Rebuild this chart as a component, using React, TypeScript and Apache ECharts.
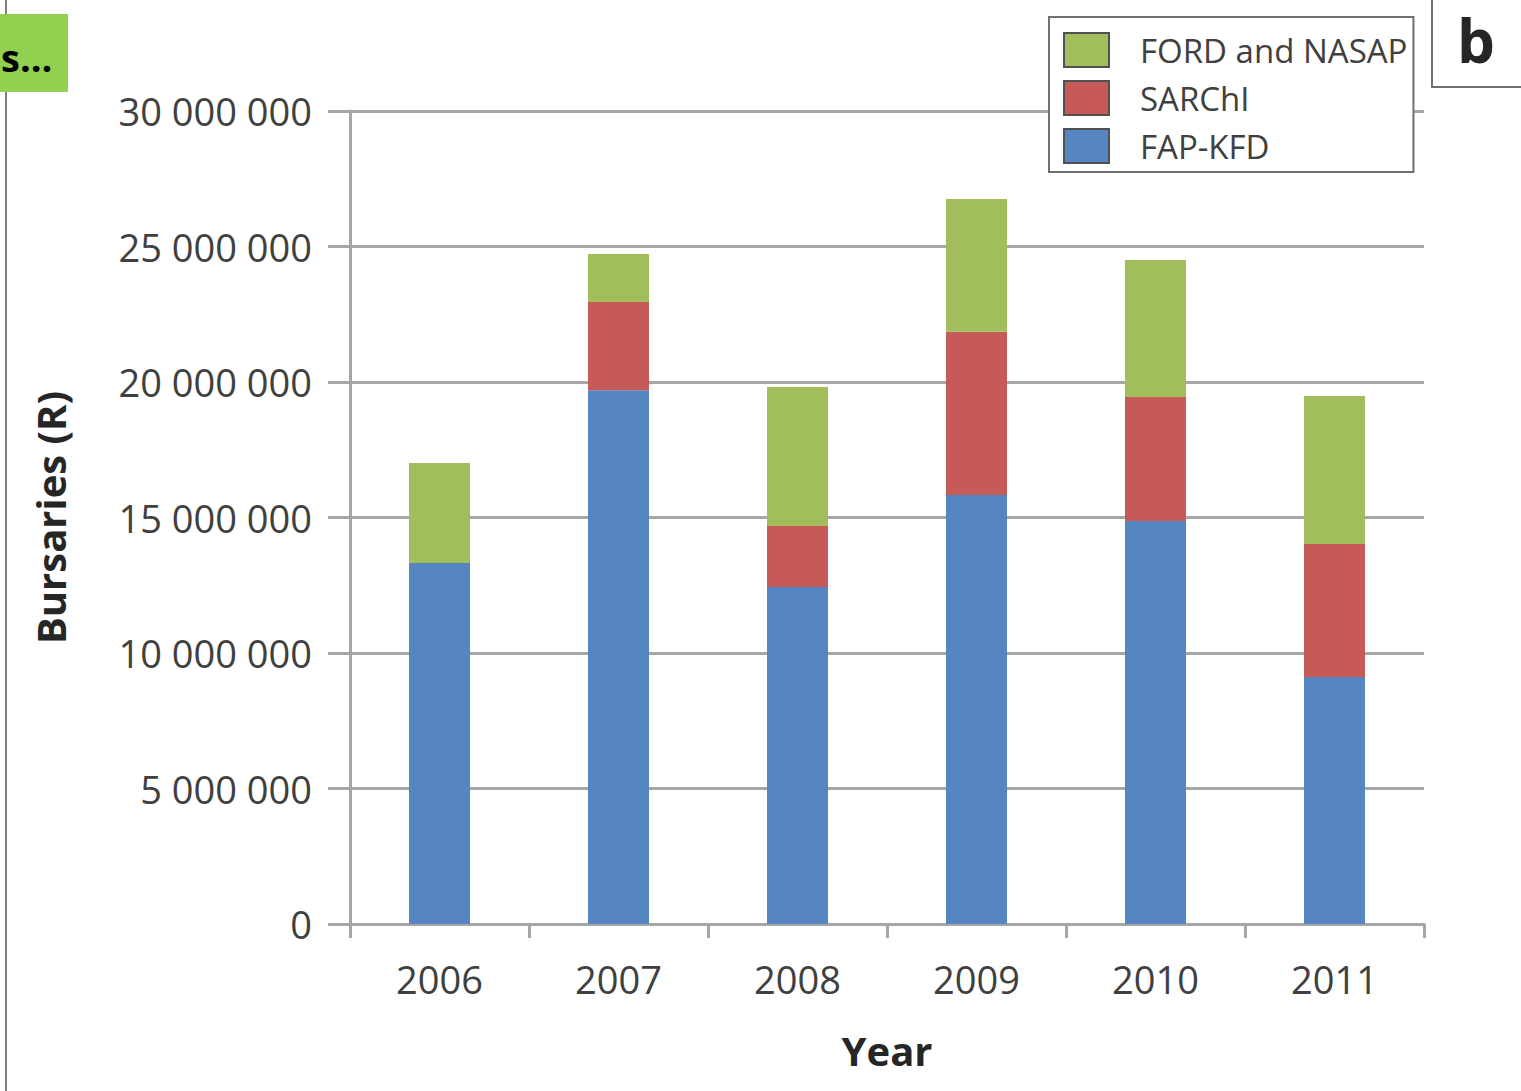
import React, { useEffect, useRef } from "react";
import * as echarts from "echarts";

const years = ["2006", "2007", "2008", "2009", "2010", "2011"];
const fapKfd = [13320000, 19700000, 12440000, 15830000, 14870000, 9110000];
const sarchi = [0, 3250000, 2250000, 6020000, 4580000, 4910000];
const fordNasap = [3690000, 1770000, 5130000, 4900000, 5050000, 5460000];
const seriesNames = ["FAP-KFD", "SARChI", "FORD and NASAP"];
const legendOrder = ["FORD and NASAP", "SARChI", "FAP-KFD"];
const colors = ["#5686C2", "#C65A56", "#A1BD5C"];

const FONT = "'Open Sans', 'DejaVu Sans', sans-serif";

function fmt(v: number): string {
  return String(v).replace(/\B(?=(\d{3})+(?!\d))/g, " ");
}

export default function App() {
  const ref = useRef<HTMLDivElement>(null);
  useEffect(() => {
    if (!ref.current) return;
    const chart = echarts.init(ref.current, undefined, { renderer: "svg" });
    const data = [fapKfd, sarchi, fordNasap];
    chart.setOption({
      animation: false,
      backgroundColor: "#ffffff",
      grid: { left: 350, right: 97, top: 111, bottom: 167, containLabel: false },
      legend: {
        orient: "vertical",
        left: 1049,
        top: 17,
        data: legendOrder,
        padding: [15, 6, 8, 14],
        itemWidth: 45,
        itemHeight: 34,
        itemGap: 12,
        backgroundColor: "#ffffff",
        borderColor: "#6f6f6f",
        borderWidth: 2,
        icon: "rect",
        itemStyle: { borderColor: "#505050", borderWidth: 2 },
        textStyle: { fontFamily: FONT, fontSize: 33, color: "#404040", padding: [0, 0, 0, 26] },
      },
      xAxis: {
        type: "category",
        data: years,
        name: "Year",
        nameLocation: "middle",
        nameGap: 106,
        nameTextStyle: { fontFamily: FONT, fontSize: 40, fontWeight: "bold", color: "#262626" },
        axisLine: { show: true, lineStyle: { color: "#A6A6A6", width: 3 } },
        axisTick: { show: true, length: 14, lineStyle: { color: "#A6A6A6", width: 3 } },
        axisLabel: { fontFamily: FONT, fontSize: 38, color: "#404040", margin: 36 },
      },
      yAxis: {
        type: "value",
        min: 0,
        max: 30000000,
        interval: 5000000,
        name: "Bursaries (R)",
        nameLocation: "middle",
        nameRotate: 90,
        nameGap: 280,
        nameTextStyle: { fontFamily: FONT, fontSize: 40, fontWeight: "bold", color: "#262626" },
        axisLine: { show: true, lineStyle: { color: "#A6A6A6", width: 3 } },
        axisTick: { show: true, length: 22, lineStyle: { color: "#A6A6A6", width: 3 } },
        splitLine: { show: true, lineStyle: { color: "#A6A6A6", width: 3 } },
        axisLabel: {
          fontFamily: FONT,
          fontSize: 38,
          color: "#404040",
          margin: 38,
          formatter: (v: number) => fmt(v),
        },
      },
      series: seriesNames.map((name, i) => ({
        name,
        type: "bar",
        stack: "total",
        barWidth: 61,
        data: data[i],
        itemStyle: { color: colors[i] },
      })),
      graphic: [
        { type: "line", shape: { x1: 6, y1: 0, x2: 6, y2: 1091 }, style: { stroke: "#808080", lineWidth: 2 } },
        { type: "rect", shape: { x: 0, y: 14, width: 68, height: 78 }, style: { fill: "#92D050" } },
        {
          type: "text",
          x: 1,
          y: 57,
          style: { text: "s...", font: `bold 38px ${FONT}`, fill: "#000000", verticalAlign: "middle", align: "left" },
        },
        { type: "rect", shape: { x: 1432, y: -5, width: 100, height: 92 }, style: { fill: "#ffffff", stroke: "#6f6f6f", lineWidth: 2 } },
        {
          type: "text",
          x: 1476,
          y: 40,
          style: { text: "b", font: `bold 60px ${FONT}`, fill: "#262626", verticalAlign: "middle", align: "center" },
        },
      ],
    });
    return () => chart.dispose();
  }, []);
  return (
    <div
      ref={ref}
      style={{ position: "fixed", left: 0, top: 0, width: 1521, height: 1091, background: "#fff" }}
    />
  );
}
